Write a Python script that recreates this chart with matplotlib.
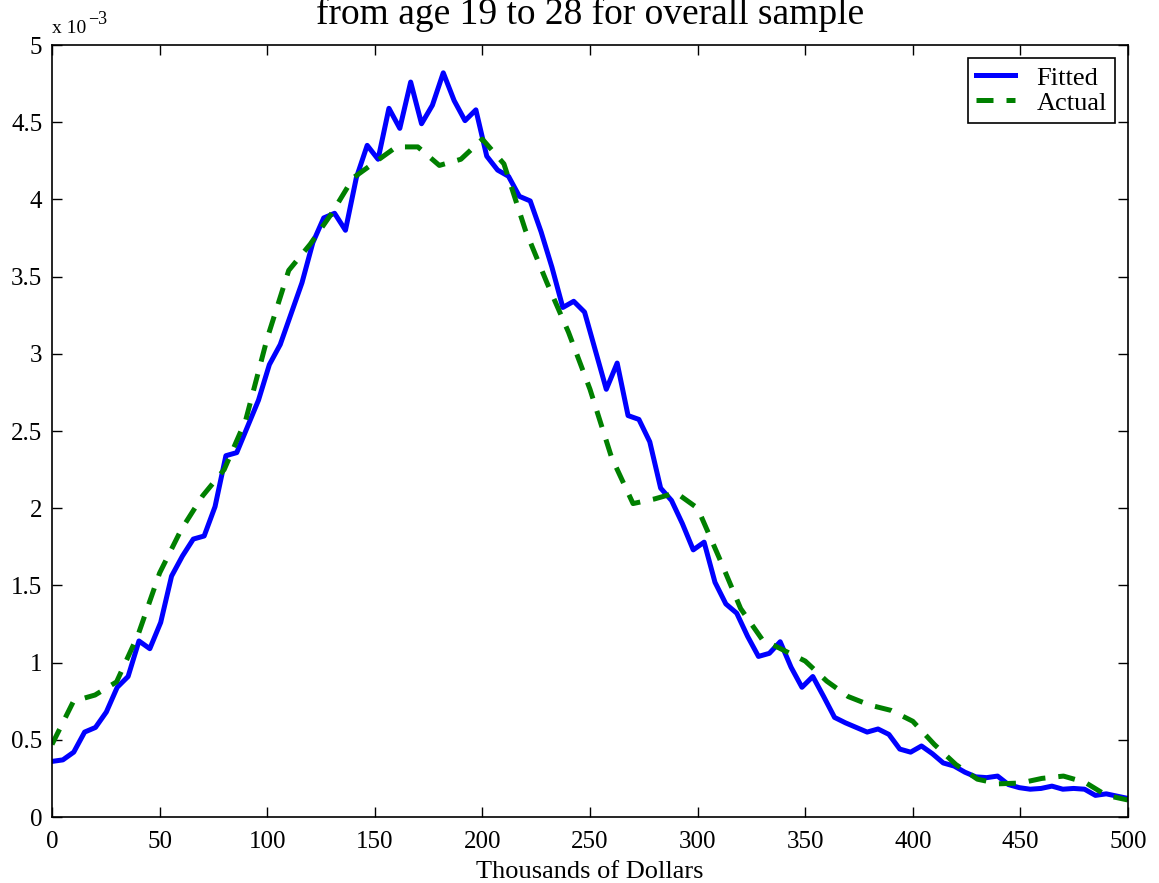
import matplotlib.pyplot as plt
import numpy as np

plt.rcParams["font.family"] = ["Liberation Serif", "DejaVu Serif"]

# density in units of 1e-3, fitted curve sampled on 100 points over 0..500
fitted = [
    0.36, 0.37, 0.42, 0.55, 0.58, 0.68, 0.84, 0.91, 1.14, 1.09,
    1.26, 1.56, 1.69, 1.80, 1.82, 2.01, 2.34, 2.36, 2.53, 2.70,
    2.93, 3.06, 3.26, 3.46, 3.72, 3.88, 3.91, 3.80, 4.14, 4.35,
    4.26, 4.59, 4.46, 4.76, 4.49, 4.61, 4.82, 4.64, 4.51, 4.58,
    4.28, 4.19, 4.15, 4.02, 3.99, 3.79, 3.56, 3.30, 3.34, 3.27,
    3.02, 2.77, 2.94, 2.60, 2.575, 2.43, 2.13, 2.05, 1.90, 1.73,
    1.78, 1.52, 1.38, 1.32, 1.17, 1.04, 1.06, 1.135, 0.97, 0.84,
    0.91, 0.78, 0.645, 0.61, 0.58, 0.55, 0.57, 0.535, 0.44, 0.42,
    0.46, 0.41, 0.35, 0.33, 0.29, 0.26, 0.255, 0.265, 0.21, 0.19,
    0.18, 0.185, 0.20, 0.18, 0.185, 0.18, 0.14, 0.15, 0.135, 0.12,
]
fitted_x = np.linspace(0, 500, len(fitted))

actual_x = np.arange(0, 501, 10)
actual = [
    0.47, 0.75, 0.79, 0.875, 1.18, 1.58, 1.86, 2.08, 2.25, 2.57,
    3.10, 3.54, 3.71, 3.91, 4.14, 4.24, 4.34, 4.34, 4.22, 4.26,
    4.39, 4.23, 3.80, 3.46, 3.14, 2.77, 2.33, 2.03, 2.06, 2.10,
    2.00, 1.68, 1.35, 1.15, 1.08, 1.01, 0.88, 0.78, 0.725, 0.69,
    0.62, 0.47, 0.34, 0.245, 0.215, 0.22, 0.25, 0.265, 0.225, 0.14,
    0.11,
]

x_ticks = np.arange(0, 501, 50)
y_ticks = np.arange(0, 5.01, 0.5)
y_tick_labels = ["0", "0.5", "1", "1.5", "2", "2.5", "3", "3.5", "4", "4.5", "5"]

W, H = 1159, 883
fig = plt.figure(figsize=(W / 100, H / 100), dpi=100)
ax = fig.add_axes([52 / W, 66 / H, 1076 / W, 772 / H])

ax.plot(fitted_x, fitted, color=(0, 0, 1), lw=3.6, label="Fitted")
ax.plot(actual_x, actual, color=(0, 0.5, 0), lw=3.6, dashes=(3.4, 2.6),
        label="Actual")

ax.set_xlim(0, 500)
ax.set_ylim(0, 5)
ax.set_xticks(x_ticks)
ax.set_yticks(y_ticks)
ax.set_yticklabels(y_tick_labels)
ax.tick_params(direction="in", length=7, width=1, labelsize=18,
               top=True, right=True)
ax.tick_params(axis="x", pad=10)
ax.tick_params(axis="y", pad=7)
for spine in ax.spines.values():
    spine.set_linewidth(1.2)

fig.text(590 / W, 5 / H, "Thousands of Dollars", ha="center",
         va="baseline", fontsize=19)
fig.text(590 / W, 1 - 24 / H, "from age 19 to 28 for overall sample",
         ha="center", va="baseline", fontsize=27)
fig.text(52 / W, 1 - 33 / H, "x 10", ha="left", va="baseline", fontsize=14)
fig.text(88 / W, 1 - 24 / H, "\u22123", ha="left", va="baseline", fontsize=13)

leg = ax.legend(loc="upper right", fontsize=19, fancybox=False,
                framealpha=1, edgecolor="black", borderaxespad=0.5,
                handlelength=1.5, handletextpad=0.8, borderpad=0.3,
                labelspacing=0.06)
leg.get_frame().set_linewidth(1.2)

fig.savefig("out.png", dpi=100)
